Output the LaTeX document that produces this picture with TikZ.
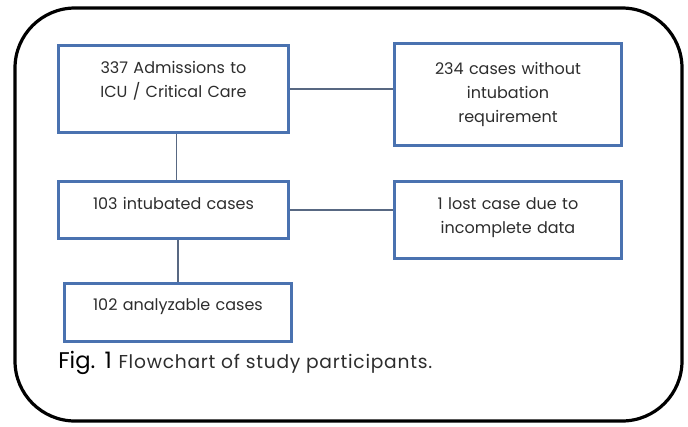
\documentclass[tikz,border=0pt]{standalone}
\usepackage{fontspec}
\setmainfont{Poppins}
\usepackage{tikz}
\usetikzlibrary{positioning}

\definecolor{boxblue}{RGB}{74,114,176}
\definecolor{linkgray}{RGB}{88,104,130}
\definecolor{txtgray}{RGB}{45,45,45}

\begin{document}
\begin{tikzpicture}[x=0.75pt,y=0.75pt,yscale=-1,xscale=1,
	flowbox/.style={draw=boxblue, line width=2.2pt, anchor=north west, inner sep=0pt,
		align=center, text=txtgray, font=\fontsize{12}{18}\selectfont},
	link/.style={draw=linkgray, line width=1pt}]
	\useasboundingbox (0,0) rectangle (688,426);
	
	%Shape: Rounded Rectangle
	\draw [line width=2.4pt, rounded corners=45pt] (15,8) rectangle (682,421);
	
	% Flow boxes
	\node (admit) [flowbox, text width=172.5pt, text height=21pt, text depth=44.25pt] at (57,44) {337 Admissions to\\ICU / Critical Care};
	\node (nointub) [flowbox, text width=170.25pt, text height=23.25pt, text depth=53.25pt] at (393,42) {234 cases without\\intubation\\requirement};
	\node (intub) [flowbox, text width=172.5pt, text height=21pt, text depth=21.75pt] at (57,180) {103 intubated cases};
	\node (lost) [flowbox, text width=170.25pt, text height=21pt, text depth=36.75pt] at (393,180) {1 lost case due to\\incomplete data};
	\node (analyz) [flowbox, text width=170.25pt, text height=20.25pt, text depth=23.25pt] at (63,282) {102 analyzable cases};
	
	%Straight Lines
	\draw [link] (admit.east) -- (admit.east -| nointub.west);
	\draw [link] ([xshift=2.25pt]admit.south) -- ([xshift=2.25pt]admit.south |- intub.north);
	\draw [link] (intub.east) -- (intub.east -| lost.west);
	\draw [link] (analyz.north) -- (analyz.north |- intub.south);
	
	% Text Node
	\node (caption) [anchor=base west, inner sep=0pt] at (58,368) {{\fontsize{17}{17}\selectfont Fig.\hspace{7pt}1}\hspace{5pt}{\fontsize{14}{14}\selectfont\addfontfeatures{LetterSpace=4}\color{txtgray}Flowchart of study participants.}};
	
\end{tikzpicture}
\end{document}
